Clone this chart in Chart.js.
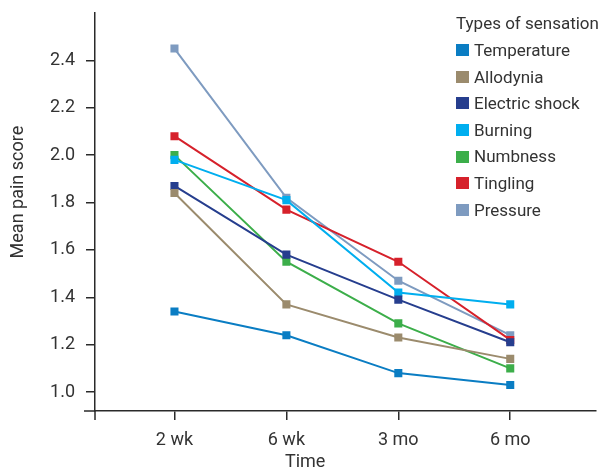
<!DOCTYPE html>
<html>
<head>
<meta charset="utf-8">
<script src="https://cdn.jsdelivr.net/npm/chart.js@4.4.1/dist/chart.umd.min.js"></script>
<style>
  html, body { margin: 0; padding: 0; background: #fff; }
  #wrap { position: relative; width: 601px; height: 472px; }
  #legend { position: absolute; left: 456px; top: 10px; font-family: "Roboto", sans-serif; font-size: 17px; color: #333; white-space: nowrap; }
  #legend .ttl { height: 27px; line-height: 27px; }
  #legend .row { height: 26.6px; line-height: 26.6px; display: flex; align-items: center; }
  #legend .box { width: 13px; height: 12px; margin-right: 5px; flex: none; }
</style>
</head>
<body>
<div id="wrap">
  <canvas id="chart" width="601" height="472"></canvas>
  <div id="legend"><div class="ttl">Types of sensation</div></div>
</div>
<script>
const timeLabels = ['2 wk', '6 wk', '3 mo', '6 mo'];
const yTicks = [1.0, 1.2, 1.4, 1.6, 1.8, 2.0, 2.2, 2.4];

const seriesNames = ['Temperature', 'Allodynia', 'Electric shock', 'Burning', 'Numbness', 'Tingling', 'Pressure'];
const seriesColors = ['#0a7dc3', '#9b8b6d', '#263e8e', '#00aeef', '#3cae4a', '#d6212b', '#7e9bc0'];

const temperature = [1.34, 1.24, 1.08, 1.03];
const allodynia = [1.84, 1.37, 1.23, 1.14];
const electricShock = [1.87, 1.58, 1.39, 1.21];
const burning = [1.98, 1.81, 1.42, 1.37];
const numbness = [2.00, 1.55, 1.29, 1.10];
const tingling = [2.08, 1.77, 1.55, 1.22];
const pressure = [2.45, 1.82, 1.47, 1.24];

const seriesValues = [temperature, allodynia, electricShock, burning, numbness, tingling, pressure];

const FONT = '"Roboto", sans-serif';
const INK = '#2a2a2a';

const datasets = seriesNames.map((name, i) => ({
  label: name,
  data: seriesValues[i].map((v, j) => ({ x: j + 1, y: v })),
  borderColor: seriesColors[i],
  backgroundColor: seriesColors[i],
  borderWidth: 2,
  pointStyle: 'rect',
  pointRadius: 5.7,
  pointBorderWidth: 0,
  fill: false
}));

const legend = document.getElementById('legend');
seriesNames.forEach((name, i) => {
  const row = document.createElement('div');
  row.className = 'row';
  row.innerHTML = `<span class="box" style="background:${seriesColors[i]}"></span><span>${name}</span>`;
  legend.appendChild(row);
});

// axis titles sit off-centre in the original, and the two axis lines overshoot the corner a bit
const axisExtras = {
  id: 'axisExtras',
  afterDraw(chart) {
    const ctx = chart.ctx;
    const a = chart.chartArea;
    ctx.save();
    ctx.strokeStyle = INK;
    ctx.lineWidth = 1.5;
    ctx.beginPath();
    ctx.moveTo(a.left, a.bottom);
    ctx.lineTo(a.left, a.bottom + 9);
    ctx.moveTo(a.left - 11, a.bottom);
    ctx.lineTo(a.left, a.bottom);
    ctx.stroke();
    ctx.fillStyle = '#333';
    ctx.font = '18px ' + FONT;
    ctx.textAlign = 'center';
    ctx.textBaseline = 'middle';
    ctx.fillText('Time', a.left + (a.right - a.left) * 0.42, 462);
    ctx.translate(18, a.top + (a.bottom - a.top) * 0.45);
    ctx.rotate(-Math.PI / 2);
    ctx.fillText('Mean pain score', 0, 0);
    ctx.restore();
  }
};

new Chart(document.getElementById('chart'), {
  type: 'line',
  data: { datasets },
  plugins: [axisExtras],
  options: {
    responsive: false,
    animation: false,
    layout: { padding: { top: 13, right: 1, left: 0, bottom: 0 } },
    plugins: { legend: { display: false }, tooltip: { enabled: false } },
    scales: {
      x: {
        type: 'linear',
        min: 0.29,
        max: 4.76,
        afterBuildTicks: s => { s.ticks = timeLabels.map((_, i) => ({ value: i + 1 })); },
        afterFit: s => { s.height = 61; },
        ticks: {
          callback: v => timeLabels[v - 1],
          font: { family: FONT, size: 18 },
          color: '#333',
          padding: 10,
          maxRotation: 0
        },
        grid: { drawOnChartArea: false, drawTicks: true, tickLength: 9, color: INK, lineWidth: 1.5 },
        border: { display: true, color: INK, width: 1.5 }
      },
      y: {
        min: 0.92,
        max: 2.6,
        afterBuildTicks: s => { s.ticks = yTicks.map(v => ({ value: v })); },
        afterFit: s => { s.width = 95; s.paddingTop = 0; s.paddingBottom = 0; },
        ticks: {
          callback: v => v.toFixed(1),
          font: { family: FONT, size: 18, lineHeight: 0.5 },
          color: '#333',
          padding: 11
        },
        grid: { drawOnChartArea: false, drawTicks: true, tickLength: 9, color: INK, lineWidth: 1.5 },
        border: { display: true, color: INK, width: 1.5 }
      }
    }
  }
});
</script>
</body>
</html>
